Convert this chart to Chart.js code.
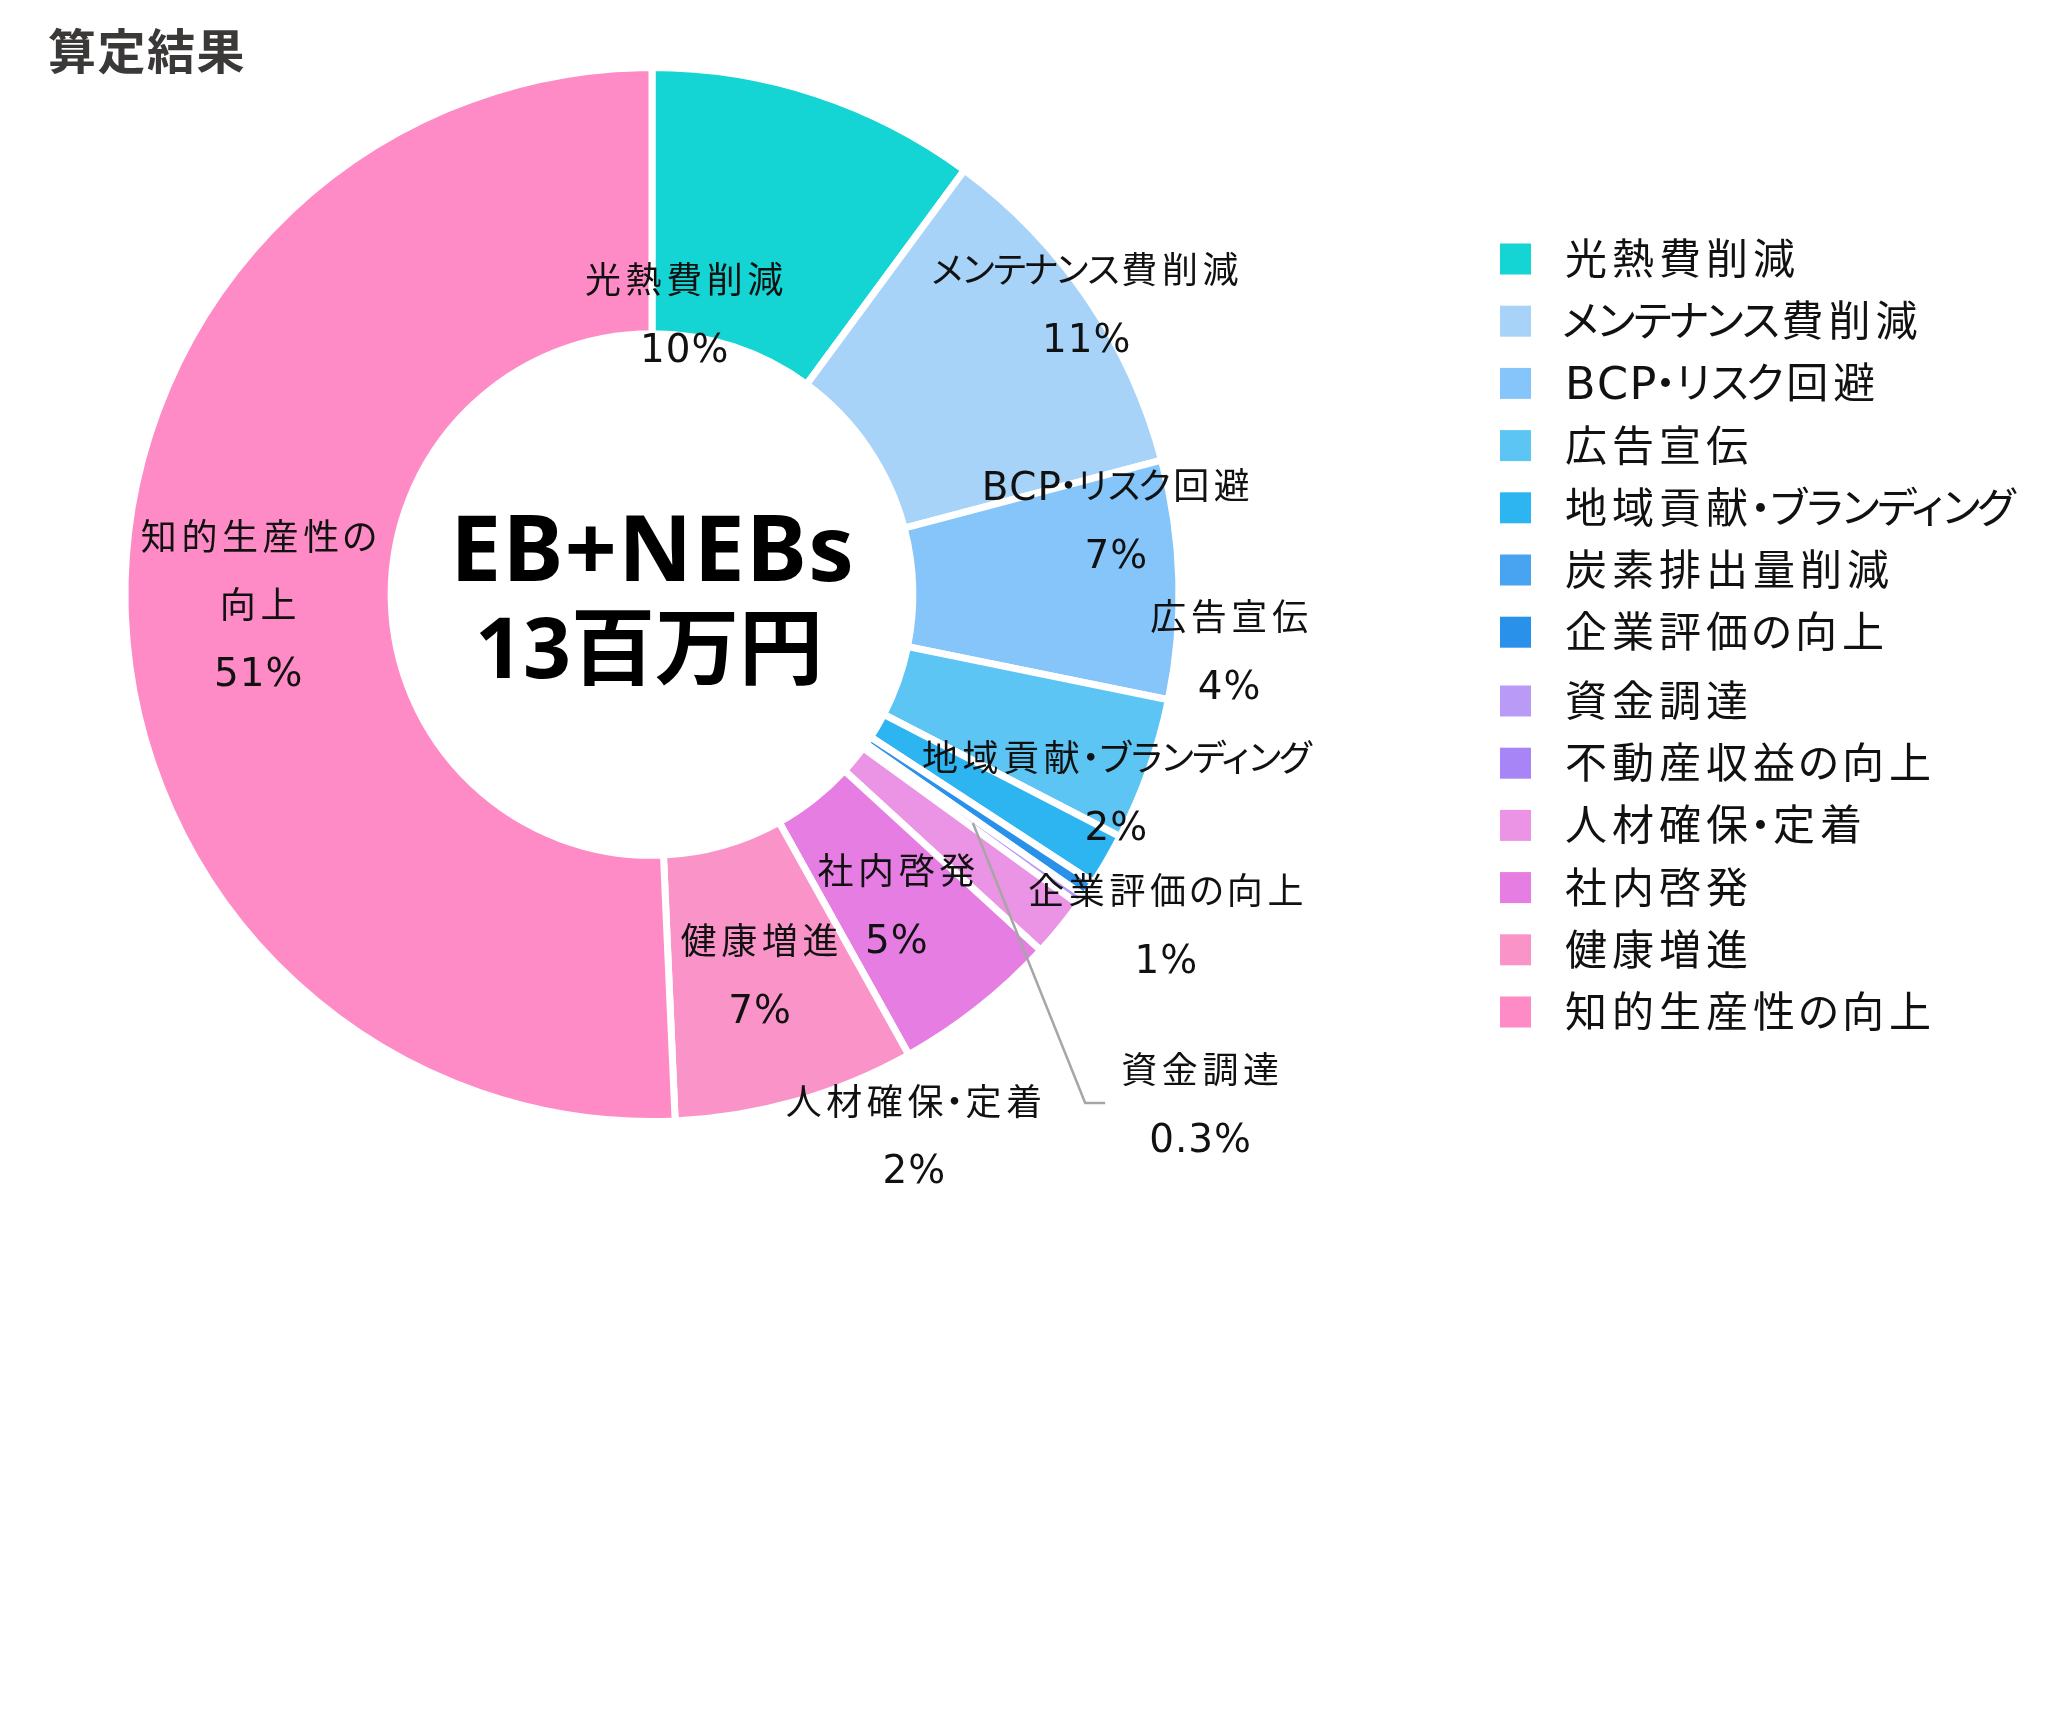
<!DOCTYPE html>
<html lang="ja">
<head>
<meta charset="utf-8">
<title>算定結果</title>
<script src="https://cdn.jsdelivr.net/npm/chart.js@4.4.1/dist/chart.umd.min.js"></script>
<style>
  html, body { margin: 0; padding: 0; background: #fff; }
  canvas { display: block; }
</style>
</head>
<body>
<canvas id="chart" width="2054" height="1715"></canvas>
<script>
const title = "算定結果";
const totalLabel = "EB+NEBs";
const totalValue = "13百万円";

const categories = [
  "光熱費削減",
  "メンテナンス費削減",
  "BCP・リスク回避",
  "広告宣伝",
  "地域貢献・ブランディング",
  "炭素排出量削減",
  "企業評価の向上",
  "資金調達",
  "不動産収益の向上",
  "人材確保・定着",
  "社内啓発",
  "健康増進",
  "知的生産性の向上",
];

// share of the total, in %
const shares = [10.1, 10.8, 7.3, 4.4, 1.6, 0, 0.5, 0.3, 0, 1.8, 5.1, 7.4, 50.7];

const colors = [
  "#14d4d4",
  "#a8d3f8",
  "#85c5fa",
  "#5dc5f3",
  "#2db5f1",
  "#48a3f0",
  "#2a91ea",
  "#b99bf7",
  "#a785f7",
  "#eb93e4",
  "#e57de2",
  "#fa94c8",
  "#fe8ac6",
];

// label placement: null = middle of the ring on the slice,
// otherwise offset from the centre in outer-radius units
const labelPos = [
  [0.061, -0.534],
  [0.824, -0.553],
  [0.88, -0.143],
  [1.095, 0.105],
  [0.88, 0.373],
  null,
  [0.975, 0.625],
  [1.04, 0.965],
  null,
  [0.497, 1.024],
  null,
  null,
  null,
];
const labelWrap = { 12: 6 }; // break the name after n characters
const leaderLines = [7];

const KATAKANA = /[\u30a0-\u30ff]/;
const HIRAGANA = /[\u3040-\u309f]/;
const SMALL_KANA = /[ぁぃぅぇぉっゃゅょァィゥェォッャュョ]/;
const LATIN = /[\x20-\x7e]/;

// draws text one char at a time so kana and latin get their own widths
const drawSpaced = (ctx, text, x, y, o) => {
  const cells = [];
  let width = 0;
  for (const ch of text) {
    const latin = LATIN.test(ch);
    const size = latin ? o.size * (o.latinScale || 1) : o.size;
    const font = `${o.weight || ""} ${size}px ${o.family}`;
    ctx.font = font;
    let cw = ctx.measureText(ch).width;
    if (ch === "・") cw = o.size * 0.36;
    else if (SMALL_KANA.test(ch)) cw = o.size * 0.56;
    else if (KATAKANA.test(ch)) cw = o.size * 0.74;
    else if (HIRAGANA.test(ch)) cw = o.size * 0.88;
    const gap = latin && o.latinLs !== undefined ? o.latinLs : o.ls;
    cells.push({ ch, cw, font, gap });
    width += cw + gap;
  }
  if (cells.length) width -= cells[cells.length - 1].gap;
  let cur = o.align === "left" ? x : x - width / 2;
  ctx.textAlign = "center";
  for (const c of cells) {
    ctx.font = c.font;
    ctx.fillText(c.ch, cur + c.cw / 2, y);
    cur += c.cw + c.gap;
  }
  return width;
};

const pctText = (v, total) => {
  const p = (v / total) * 100;
  return (p < 0.5 ? p.toFixed(1) : Math.round(p + 1e-9)) + "%";
};

const decor = {
  id: "decor",
  afterDraw(chart) {
    const ctx = chart.ctx;
    const meta = chart.getDatasetMeta(0);
    const first = meta.data[0];
    const cx = first.x;
    const cy = first.y;
    const R = first.outerRadius;
    const total = shares.reduce((a, b) => a + b, 0);

    ctx.save();
    ctx.textBaseline = "middle";

    // title
    ctx.fillStyle = "#3b3838";
    drawSpaced(ctx, title, 48, 51, {
      size: 48, ls: 1.5, weight: "bold", family: '"Noto Sans CJK JP"', align: "left",
    });

    // centre text
    ctx.fillStyle = "#000";
    drawSpaced(ctx, totalLabel, cx, cy - 39, {
      size: 91, ls: 1.5, weight: "bold", family: '"Noto Sans", "Noto Sans CJK JP"',
    });
    drawSpaced(ctx, totalValue, cx - 3, cy + 60, {
      size: 84, ls: 0, weight: "bold", family: '"Noto Sans", "Noto Sans CJK JP"',
    });

    // data labels
    const labelFont = {
      size: 36, ls: 4.6, latinScale: 1.08, latinLs: 1,
      family: '"DejaVu Sans", "Noto Sans CJK JP"',
    };
    const lineGap = 68;
    ctx.fillStyle = "#111";
    meta.data.forEach((arc, i) => {
      if (!shares[i]) return;
      const mid = (arc.startAngle + arc.endAngle) / 2;
      const rm = (arc.innerRadius + arc.outerRadius) / 2;
      const ax = cx + Math.cos(mid) * rm;
      const ay = cy + Math.sin(mid) * rm;
      let lx = ax;
      let ly = ay;
      if (labelPos[i]) {
        lx = cx + labelPos[i][0] * R;
        ly = cy + labelPos[i][1] * R;
      }
      const name = categories[i];
      const lines = labelWrap[i]
        ? [name.slice(0, labelWrap[i]), name.slice(labelWrap[i])]
        : [name];
      lines.push(pctText(shares[i], total));
      const top = ly - ((lines.length - 1) * lineGap) / 2 + 5;
      let maxW = 0;
      lines.forEach((t, k) => {
        const w = drawSpaced(ctx, t, lx, top + k * lineGap, labelFont);
        maxW = Math.max(maxW, w);
      });
      if (leaderLines.includes(i)) {
        const ex = lx - maxW / 2 - 16;
        ctx.strokeStyle = "#a6a6a6";
        ctx.lineWidth = 2.5;
        ctx.beginPath();
        ctx.moveTo(ax, ay);
        ctx.lineTo(ex - 20, ly);
        ctx.lineTo(ex, ly);
        ctx.stroke();
      }
    });

    // legend
    const legendFont = {
      size: 42, ls: 5, latinScale: 1.06, latinLs: 1.5, align: "left",
      family: '"DejaVu Sans", "Noto Sans CJK JP"',
    };
    categories.forEach((name, i) => {
      const y = 259 + i * 62.2 + (i >= 7 ? 6.6 : 0);
      ctx.fillStyle = colors[i];
      ctx.fillRect(1500, y - 15.5, 31, 31);
      ctx.fillStyle = "#111";
      drawSpaced(ctx, name, 1565, y + 4, legendFont);
    });

    ctx.restore();
  },
};

const chart = new Chart(document.getElementById("chart"), {
  type: "doughnut",
  data: {
    labels: categories,
    datasets: [
      {
        data: shares,
        backgroundColor: colors,
        borderColor: "#fff",
        borderWidth: 7,
        hoverBorderWidth: 7,
        hoverOffset: 0,
      },
    ],
  },
  options: {
    responsive: false,
    animation: false,
    cutout: "49.5%",
    layout: {
      padding: { left: 121.5, right: 871.5, top: 64, bottom: 590 },
    },
    plugins: {
      legend: { display: false },
      tooltip: { enabled: false },
    },
  },
  plugins: [decor],
});
</script>
</body>
</html>
